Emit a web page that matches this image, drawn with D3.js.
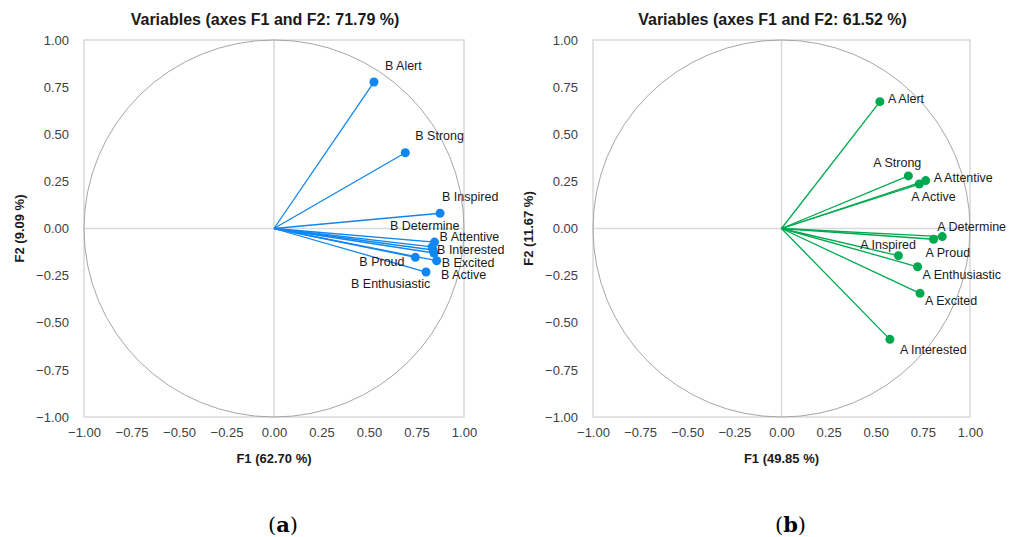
<!DOCTYPE html>
<html>
<head>
<meta charset="utf-8">
<script src="https://cdn.jsdelivr.net/npm/d3@7"></script>
<style>
  body { margin: 0; background: #fff; }
  svg { display: block; font-family: "Liberation Sans", Arial, sans-serif; }
</style>
</head>
<body>
<svg id="chart" width="1019" height="537"></svg>
<script>
var varsB = ["B Alert", "B Strong", "B Inspired", "B Determine", "B Attentive",
             "B Interested", "B Active", "B Excited", "B Proud", "B Enthusiastic"];
var f1B = [0.526, 0.691, 0.874, 0.837, 0.845, 0.832, 0.842, 0.856, 0.744, 0.800];
var f2B = [0.777, 0.402, 0.081, -0.114, -0.072, -0.098, -0.130, -0.171, -0.153, -0.231];

var varsA = ["A Alert", "A Strong", "A Attentive", "A Active", "A Determine",
             "A Proud", "A Inspired", "A Enthusiastic", "A Excited", "A Interested"];
var f1A = [0.522, 0.673, 0.765, 0.731, 0.853, 0.807, 0.620, 0.722, 0.735, 0.575];
var f2A = [0.673, 0.279, 0.254, 0.236, -0.043, -0.057, -0.144, -0.203, -0.344, -0.588];

var ticks = [-1, -0.75, -0.5, -0.25, 0, 0.25, 0.5, 0.75, 1];

// label offsets (px from the point) so names don't pile up
var offB = {
  "B Alert": [11, -16], "B Strong": [10, -17], "B Inspired": [2, -17],
  "B Determine": [-43, -24], "B Attentive": [5, -5], "B Interested": [5, 3],
  "B Active": [7, 22], "B Excited": [5, 2], "B Proud": [-56, 4],
  "B Enthusiastic": [-75, 12]
};
var offA = {
  "A Alert": [8, -3], "A Strong": [-35, -13], "A Attentive": [8, -3],
  "A Active": [-8, 13], "A Determine": [-5, -10], "A Proud": [-8, 13],
  "A Inspired": [-38, -11], "A Enthusiastic": [5, 8], "A Excited": [5, 7],
  "A Interested": [10, 10]
};

var svg = d3.select("#chart");

function drawPanel(opt) {
  var x = d3.scaleLinear().domain([-1, 1]).range([opt.left, opt.right]);
  var y = d3.scaleLinear().domain([-1, 1]).range([417, 40]);
  var g = svg.append("g");

  // frame
  g.append("rect")
    .attr("x", x(-1)).attr("y", y(1))
    .attr("width", x(1) - x(-1)).attr("height", y(-1) - y(1))
    .attr("fill", "none").attr("stroke", "#d9d9d9").attr("stroke-width", 1.5);

  // zero lines
  g.append("line").attr("x1", x(0)).attr("x2", x(0)).attr("y1", y(1)).attr("y2", y(-1))
    .attr("stroke", "#d9d9d9").attr("stroke-width", 1.5);
  g.append("line").attr("x1", x(-1)).attr("x2", x(1)).attr("y1", y(0)).attr("y2", y(0))
    .attr("stroke", "#d9d9d9").attr("stroke-width", 1.5);

  // unit circle
  g.append("ellipse")
    .attr("cx", x(0)).attr("cy", y(0))
    .attr("rx", x(1) - x(0)).attr("ry", y(0) - y(1))
    .attr("fill", "none").attr("stroke", "#a6a6a6").attr("stroke-width", 1);

  var fmt = d3.format(".2f");
  var xAxis = d3.axisBottom(x).tickValues(ticks).tickFormat(fmt).tickSize(0).tickPadding(11);
  var yAxis = d3.axisLeft(y).tickValues(ticks).tickFormat(fmt).tickSize(0).tickPadding(15);

  var ax = g.append("g").attr("transform", "translate(0," + y(-1) + ")").call(xAxis);
  var ay = g.append("g").attr("transform", "translate(" + x(-1) + ",0)").call(yAxis);
  [ax, ay].forEach(function(a) {
    a.select(".domain").remove();
    a.selectAll("text").attr("font-size", 13).attr("fill", "#404040")
      .attr("font-family", "Liberation Sans, Arial, sans-serif");
  });

  // vectors
  var pts = opt.names.map(function(n, i) { return { name: n, f1: opt.f1[i], f2: opt.f2[i] }; });
  g.selectAll("line.vec").data(pts).enter().append("line")
    .attr("class", "vec")
    .attr("x1", x(0)).attr("y1", y(0))
    .attr("x2", d => x(d.f1)).attr("y2", d => y(d.f2))
    .attr("stroke", opt.color).attr("stroke-width", 1.3);
  g.selectAll("circle.pt").data(pts).enter().append("circle")
    .attr("class", "pt")
    .attr("cx", d => x(d.f1)).attr("cy", d => y(d.f2))
    .attr("r", 4.5).attr("fill", opt.color);
  g.selectAll("text.lbl").data(pts).enter().append("text")
    .attr("class", "lbl")
    .attr("x", d => x(d.f1) + opt.off[d.name][0])
    .attr("y", d => y(d.f2) + opt.off[d.name][1])
    .attr("dy", "0.35em")
    .attr("font-size", 12.5).attr("fill", "#1a1a1a")
    .text(d => d.name);

  // titles
  g.append("text").attr("x", x(0) - 9).attr("y", 25)
    .attr("text-anchor", "middle").attr("font-size", 16).attr("font-weight", "bold")
    .attr("fill", "#1a1a1a").text(opt.title);
  g.append("text").attr("x", x(0)).attr("y", 463)
    .attr("text-anchor", "middle").attr("font-size", 13).attr("font-weight", "bold")
    .attr("fill", "#1a1a1a").text(opt.xTitle);
  g.append("text")
    .attr("transform", "translate(" + (opt.left - 60) + "," + y(0) + ") rotate(-90)")
    .attr("text-anchor", "middle").attr("font-size", 13).attr("font-weight", "bold")
    .attr("fill", "#1a1a1a").text(opt.yTitle);

  // panel caption
  var cap = g.append("text").attr("x", x(0) + 9).attr("y", 532)
    .attr("text-anchor", "middle").attr("font-size", 21)
    .attr("font-family", "DejaVu Serif, Liberation Serif, serif").attr("fill", "#000");
  cap.append("tspan").text("(");
  cap.append("tspan").attr("font-weight", "bold").text(opt.caption);
  cap.append("tspan").text(")");
}

drawPanel({
  left: 84, right: 464, names: varsB, f1: f1B, f2: f2B, off: offB,
  color: "#0f86f0", title: "Variables (axes F1 and F2: 71.79 %)",
  xTitle: "F1 (62.70 %)", yTitle: "F2 (9.09 %)", caption: "a"
});
drawPanel({
  left: 593, right: 970, names: varsA, f1: f1A, f2: f2A, off: offA,
  color: "#00a84f", title: "Variables (axes F1 and F2: 61.52 %)",
  xTitle: "F1 (49.85 %)", yTitle: "F2 (11.67 %)", caption: "b"
});
</script>
</body>
</html>
